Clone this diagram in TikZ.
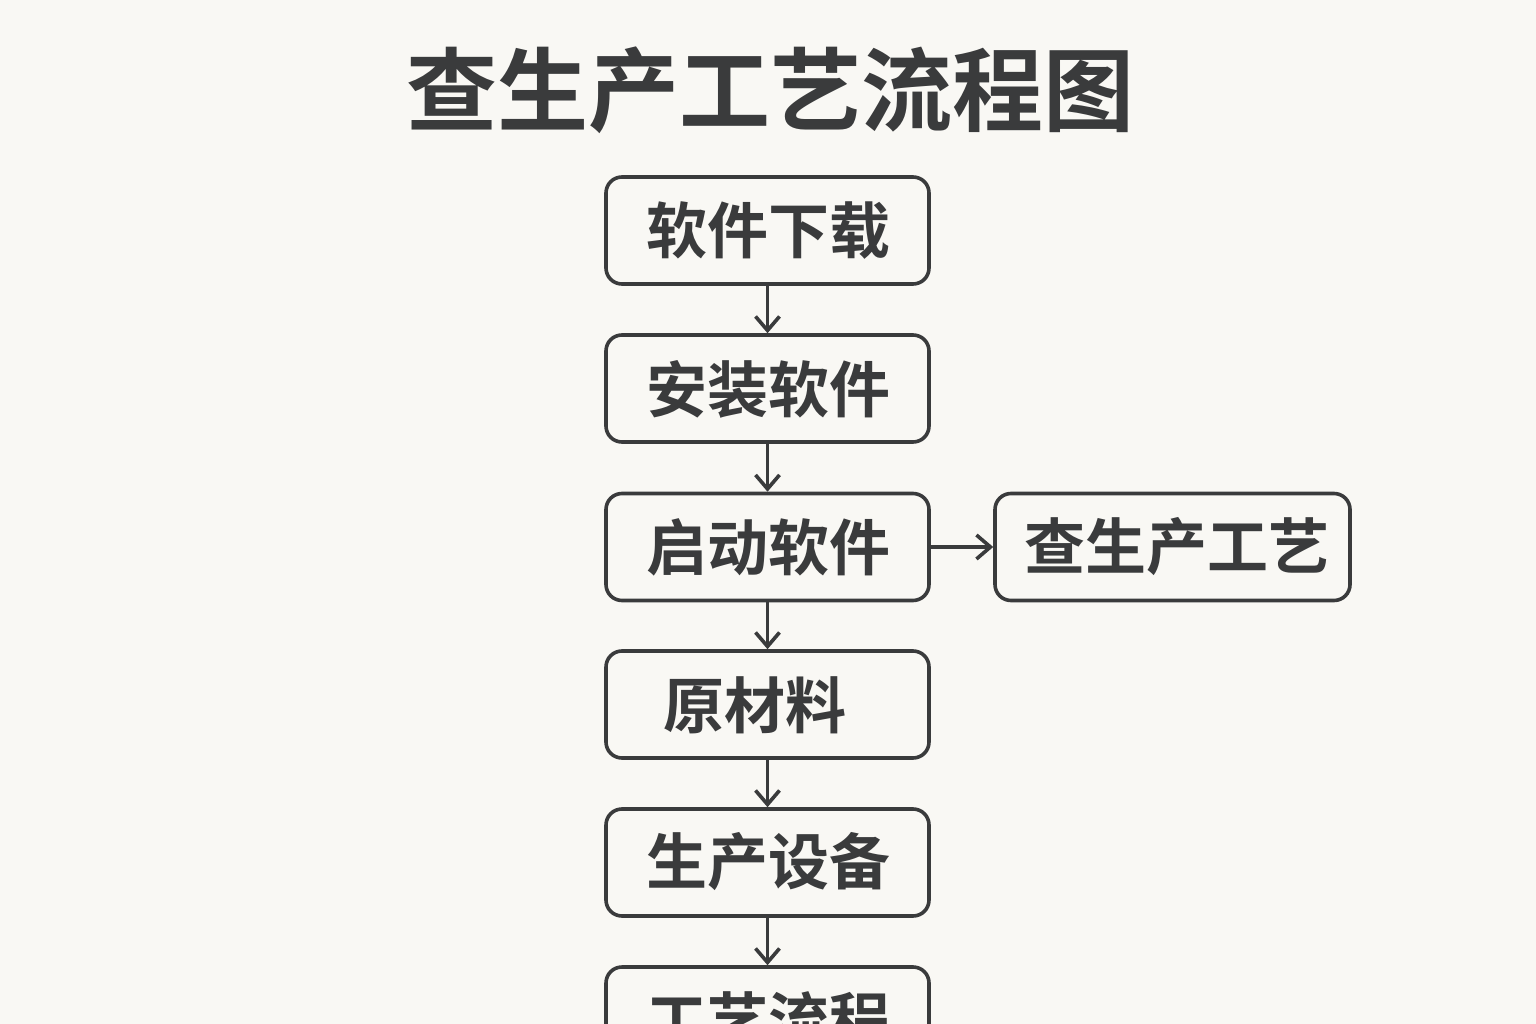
\documentclass[tikz,border=0pt]{standalone}
\usepackage{fontspec}
\newfontfamily\cjk{Noto Sans CJK SC}[BoldFont={Noto Sans CJK SC Bold}]
\usetikzlibrary{arrows.meta}
\definecolor{ink}{HTML}{3A3B3C}
\definecolor{paper}{HTML}{F9F8F4}
\begin{document}
\begin{tikzpicture}[x=1pt,y=-1pt,
  stepbox/.style={draw=ink, line width=3.6pt, rounded corners=16pt, fill=paper, minimum width=323pt, minimum height=107pt, inner sep=0pt},
  lbl/.style={text=ink, font=\cjk\bfseries\fontsize{61}{63}\selectfont, inner sep=0pt},
  conn/.style={draw=ink, line width=3.6pt, -{Straight Barb[length=14pt,width=24pt,line width=3.6pt]}}]
\useasboundingbox (0,0) rectangle (1536,1024);
\fill[paper] (0,0) rectangle (1536,1024);
\clip (0,0) rectangle (1536,1024);
\node[text=ink, font=\cjk\bfseries\fontsize{91}{94}\selectfont, inner sep=0pt] (title) at (770,90) {查生产工艺流程图};
\node[stepbox] (b1) at (767.5,230.5) {};
\node[stepbox] (b2) at (767.5,388.5) {};
\node[stepbox] (b3) at (767.5,547) {};
\node[stepbox] (b4) at (767.5,704.5) {};
\node[stepbox] (b5) at (767.5,862.5) {};
\node[stepbox] (b6) at (767.5,1020.5) {};
\node[stepbox, minimum width=355pt] (r1) at (1172.5,547) {};
\node[lbl] (t1) at (768,231) {软件下载};
\node[lbl] (t2) at (768,389) {安装软件};
\node[lbl] (t3) at (768,547) {启动软件};
\node[lbl] (t4) at (755,705) {原材料};
\node[lbl] (t5) at (768,862) {生产设备};
\node[lbl] (t6) at (768,1020) {工艺流程};
\node[lbl] (tr) at (1177,547) {查生产工艺};
\draw[conn] (b1.south) -- (b2.north);
\draw[conn] (b2.south) -- (b3.north);
\draw[conn] (b3.south) -- (b4.north);
\draw[conn] (b4.south) -- (b5.north);
\draw[conn] (b5.south) -- (b6.north);
\draw[conn] (b3.east) -- (r1.west);
\end{tikzpicture}
\end{document}
